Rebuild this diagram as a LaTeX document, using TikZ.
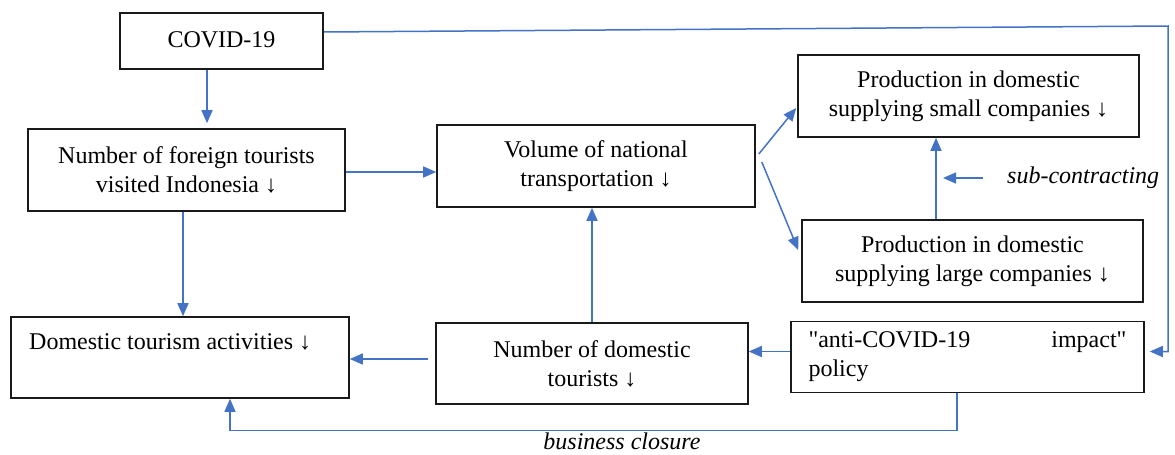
\documentclass[tikz,border=0pt]{standalone}
\usepackage{fontspec}
\setmainfont{Liberation Serif}[Ligatures=TeXOff]
\usetikzlibrary{arrows.meta}
\definecolor{conncol}{HTML}{4472C4}
\definecolor{boxcol}{HTML}{1A1A1A}
\tikzset{
  box/.style={draw=boxcol, line width=1.6pt, inner sep=0pt, align=center,
              font=\fontsize{24}{29}\selectfont},
  txt/.style={inner sep=0pt, font=\fontsize{24}{29}\selectfont},
  lbl/.style={inner sep=0pt, font=\fontsize{24}{29}\selectfont\itshape},
  conn/.style={draw=conncol, line width=1.5pt, -{Triangle[length=13pt,width=11pt]}},
}
\begin{document}
\begin{tikzpicture}[x=1pt,y=-1pt]
\fill[white] (0,0) rectangle (1175,455);
\useasboundingbox (0,0) rectangle (1175,455);

% boxes
\node[box, minimum width=203pt, minimum height=56pt] (covid) at (221.5,41) {\raisebox{3pt}{COVID-19}};
\node[box, minimum width=317pt, minimum height=82pt] (foreign) at (186.5,170)
  {Number of foreign tourists\\visited Indonesia ↓};
\node[box, minimum width=318pt, minimum height=82pt] (volume) at (596,166)
  {Volume of national\\transportation ↓};
\node[box, minimum width=341pt, minimum height=82pt] (small) at (968.5,96)
  {Production in domestic\\supplying small companies ↓};
\node[box, minimum width=341pt, minimum height=82pt] (large) at (972.5,261)
  {Production in domestic\\supplying large companies ↓};
\node[box, minimum width=338pt, minimum height=81pt] (domact) at (180,357.5) {};
\node[txt, anchor=west] (domtext) at (29,342) {Domestic tourism activities ↓};
\node[box, minimum width=312pt, minimum height=81pt] (numdom) at (592,363.5)
  {Number of domestic\\tourists ↓};
\node[box, minimum width=353pt, minimum height=71pt, text width=318pt, align=left] (policy) at (967.5,357)
  {"anti-COVID-19\hfill impact"\\policy};

% labels
\node[lbl, anchor=west] (sub) at (1007,178) {sub-contracting};
\node[lbl] (bclabel) at (622,441) {business closure};

% connectors
\draw[conn, shorten >=5pt] ([xshift=-14.5pt]covid.south) -- ([xshift=-14.5pt]covid.south |- foreign.north);
\coordinate (rt) at (1168,26);
\coordinate (pin) at ([xshift=5pt,yshift=5.5pt]policy.east);
\draw[conn] ([yshift=9pt]covid.east) -- (rt) -- (rt |- pin) -- (pin);
\draw[conn] ([yshift=-2pt]foreign.east) -- ([yshift=-2pt]foreign.east -| volume.west);
\draw[conn] ([xshift=-3.5pt]foreign.south) -- ([xshift=-3.5pt]foreign.south |- domact.north);
\draw[conn] ([shift={(3,-12)}]volume.east) -- ([shift={(-1,12)}]small.west);
\draw[conn] ([shift={(6,-4)}]volume.east) -- ([shift={(-3,-11)}]large.west);
\draw[conn] ([xshift=-36.5pt]large.north) -- ([xshift=-36.5pt]large.north |- small.south);
\draw[conn] ([xshift=-24pt]sub.west) -- ([xshift=-64pt]sub.west);
\draw[conn] (numdom.north) -- (numdom.north |- volume.south);
\draw[conn, shorten <=7pt] ([yshift=4.5pt]numdom.west) -- ([yshift=4.5pt]numdom.west -| domact.east);
\draw[conn] ([yshift=5.5pt]policy.west) -- ([yshift=5.5pt]policy.west -| numdom.east);
\draw[conn] ([xshift=-10.5pt]policy.south) -- ++(0,37) -| ([xshift=50pt]domact.south);
\end{tikzpicture}
\end{document}
